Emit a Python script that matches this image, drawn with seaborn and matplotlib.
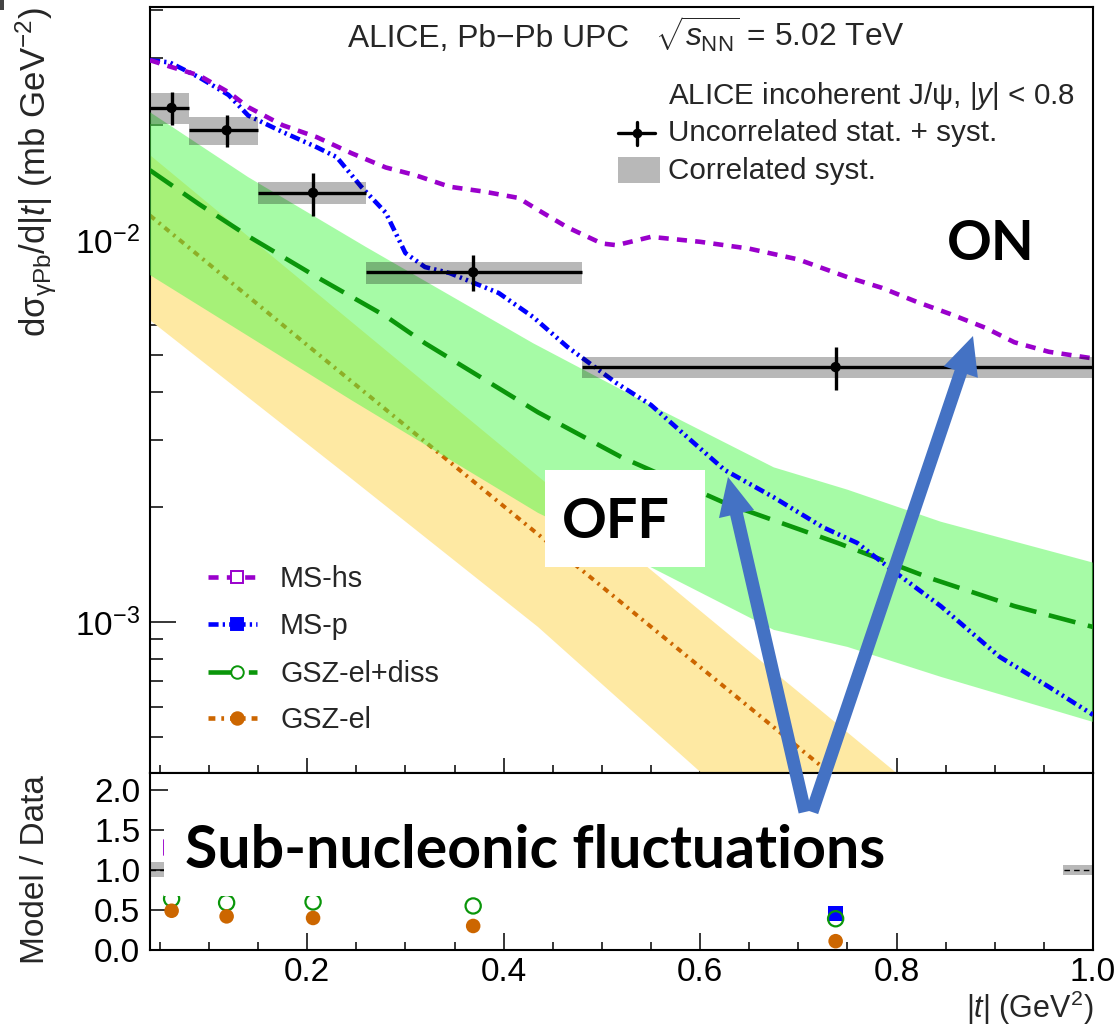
import numpy as np
import pandas as pd
import matplotlib
matplotlib.use("Agg")
import matplotlib.pyplot as plt
import matplotlib.patches as mpatches
from matplotlib.lines import Line2D
from matplotlib.ticker import MultipleLocator, FixedLocator, NullFormatter, LogLocator, FuncFormatter
from matplotlib.transforms import IdentityTransform
import seaborn as sns

# ---------------- ALICE incoherent J/psi data ----------------
t_lo = [0.04, 0.08, 0.15, 0.26, 0.48]
t_hi = [0.08, 0.15, 0.26, 0.48, 1.00]
t_mean = [0.062, 0.118, 0.206, 0.369, 0.738]
xsec = [0.0222, 0.0194, 0.0133, 0.00824, 0.00465]
err_unc = [0.0022, 0.0019, 0.0017, 0.0009, 0.0006]
err_cor = [0.0021, 0.0016, 0.0009, 0.00055, 0.0003]

# ---------------- model curves ----------------
ms_hs_t = [0.04, 0.06, 0.09, 0.12, 0.14, 0.175, 0.21, 0.245, 0.28, 0.31, 0.345, 0.38,
           0.415, 0.435, 0.465, 0.50, 0.515, 0.55, 0.60, 0.65, 0.70, 0.75, 0.785, 0.82,
           0.855, 0.89, 0.92, 0.955, 1.0]
ms_hs_v = [0.0296, 0.0285, 0.0270, 0.0244, 0.0223, 0.0200, 0.0186, 0.0169, 0.0155, 0.0148,
           0.0138, 0.0134, 0.0129, 0.0120, 0.0108, 0.0098, 0.0097, 0.0102, 0.0099, 0.0095,
           0.0089, 0.0080, 0.0075, 0.0069, 0.0064, 0.0059, 0.0054, 0.0051, 0.0049]

ms_p_t = [0.04, 0.06, 0.09, 0.12, 0.14, 0.175, 0.21, 0.23, 0.255, 0.28, 0.30, 0.32, 0.345,
          0.37, 0.395, 0.43, 0.465, 0.515, 0.55, 0.59, 0.625, 0.675, 0.725, 0.76, 0.795,
          0.845, 0.905, 0.955, 1.0]
ms_p_v = [0.0296, 0.0292, 0.0267, 0.0240, 0.0212, 0.0192, 0.0175, 0.0165, 0.0138, 0.0118,
          0.00925, 0.00850, 0.00820, 0.00772, 0.00727, 0.00629, 0.00525, 0.00422, 0.00370,
          0.00300, 0.00250, 0.00212, 0.00177, 0.00161, 0.00137, 0.00110, 0.00081, 0.000676,
          0.000571]

gsz_diss_t = [0.04, 0.09, 0.14, 0.21, 0.28, 0.32, 0.435, 0.52, 0.625, 0.74, 0.835, 0.92, 1.0]
gsz_diss_v = [0.01524, 0.01242, 0.01024, 0.00800, 0.00632, 0.00537, 0.00354, 0.00270,
              0.00205, 0.00161, 0.00130, 0.00110, 0.00097]
gsz_diss_up_t = [0.04, 0.14, 0.26, 0.43, 0.54, 0.675, 0.75, 0.845, 1.0]
gsz_diss_up_v = [0.02163, 0.01462, 0.00959, 0.00537, 0.00381, 0.00254, 0.00222, 0.00183, 0.00143]
gsz_diss_lo_t = [0.04, 0.245, 0.435, 0.55, 0.675, 0.75, 0.845, 1.0]
gsz_diss_lo_v = [0.00810, 0.00381, 0.00193, 0.00139, 0.000953, 0.000860, 0.000718, 0.000547]

gsz_el_t = [0.04, 0.2, 0.4, 0.6, 0.8]
gsz_el_v = [0.0116, 0.00531, 0.00201, 0.000762, 0.000289]
gsz_el_up_t = [0.04, 0.2, 0.4, 0.6, 0.8, 0.9]
gsz_el_up_v = [0.0167, 0.00762, 0.00286, 0.00107, 0.000402, 0.000246]
gsz_el_lo_t = [0.04, 0.24, 0.435, 0.6, 0.7, 0.9]
gsz_el_lo_v = [0.00617, 0.00243, 0.00097, 0.000405, 0.000238, 0.0000900]

# ---------------- model / data ratios ----------------
ratio_ms_hs = [1.28, 1.27, 1.41, 1.64, 1.76]
ratio_ms_p = [1.31, 1.24, 1.28, 0.94, 0.46]
ratio_gsz_diss = [0.64, 0.59, 0.60, 0.55, 0.39]
ratio_gsz_el = [0.49, 0.42, 0.40, 0.30, 0.11]

# ---------------- style ----------------
PURPLE = "#9a00cc"
BLUE = "#0000ff"
GREEN = "#0a960a"
ORANGE = "#cc6600"
BAND_GREEN = (79 / 255, 249 / 255, 79 / 255)
BAND_YELLOW = "#fee9a3"
ARROW = "#4472c4"

LS_HS = (0, (2.2, 1.8))
LS_P = (0, (2.2, 0.9, 0.5, 0.9, 0.5, 0.9))
LS_DISS = (0, (6.0, 2.8))
LS_EL = (0, (1.5, 1.3, 0.6, 1.3))

sns.set_style("ticks")
plt.rcParams["font.family"] = ["Liberation Sans", "DejaVu Sans"]
plt.rcParams["mathtext.fontset"] = "custom"
plt.rcParams["mathtext.rm"] = "Liberation Sans"
plt.rcParams["mathtext.it"] = "Liberation Sans:italic"
plt.rcParams["mathtext.bf"] = "Liberation Sans:bold"
plt.rcParams["mathtext.sf"] = "Liberation Sans"

W, H = 1120, 1030
fig = plt.figure(figsize=(W / 100, H / 100), dpi=100)


def fx(px):
    return px / W


def fy(py):
    return 1 - py / H


ax = fig.add_axes([fx(150), fy(773), (1093 - 150) / W, (773 - 7) / H])
axr = fig.add_axes([fx(150), fy(950), (1093 - 150) / W, (950 - 773) / H], sharex=ax)

# ---------------- main panel ----------------
ax.set_yscale("log")
ax.set_xlim(0.04, 1.0)
ax.set_ylim(4.02e-4, 4.08e-2)

# GSZ-el band (underneath)
ax.fill(np.r_[gsz_el_up_t, gsz_el_lo_t[::-1]], np.r_[gsz_el_up_v, gsz_el_lo_v[::-1]],
        color=BAND_YELLOW, lw=0, zorder=1)
sns.lineplot(x=gsz_el_t, y=gsz_el_v, ax=ax, color=ORANGE, lw=2.9,
             linestyle=LS_EL, zorder=2, legend=False)
# GSZ-el+diss band, semi-transparent
ax.fill(np.r_[gsz_diss_up_t, gsz_diss_lo_t[::-1]], np.r_[gsz_diss_up_v, gsz_diss_lo_v[::-1]],
        color=BAND_GREEN, alpha=0.5, lw=0, zorder=3)
sns.lineplot(x=gsz_diss_t, y=gsz_diss_v, ax=ax, color=GREEN, lw=3.3,
             linestyle=LS_DISS, zorder=4, legend=False)
sns.lineplot(x=ms_p_t, y=ms_p_v, ax=ax, color=BLUE, lw=3.3,
             linestyle=LS_P, zorder=4, legend=False)
sns.lineplot(x=ms_hs_t, y=ms_hs_v, ax=ax, color=PURPLE, lw=3.3,
             linestyle=LS_HS, zorder=4, legend=False)

# correlated systematics boxes
widths = np.subtract(t_hi, t_lo)
ax.bar(t_lo, 2 * np.array(err_cor), width=widths, bottom=np.subtract(xsec, err_cor),
       align="edge", color="black", alpha=0.28, lw=0, zorder=5)
ax.errorbar(t_mean, xsec, yerr=err_unc,
            xerr=[np.subtract(t_mean, t_lo), np.subtract(t_hi, t_mean)],
            fmt="none", ecolor="black", elinewidth=2.4, capsize=0, zorder=6)
sns.scatterplot(x=t_mean, y=xsec, ax=ax, color="black", s=55, edgecolor="none",
                zorder=7, legend=False)

# ---------------- ratio panel ----------------
axr.set_ylim(0, 2.21)
rel = np.array(err_cor) / np.array(xsec)
axr.bar(t_lo, 2 * rel, width=widths, bottom=1 - rel, align="edge", color="black",
        alpha=0.28, lw=0, zorder=1)
axr.axhline(1.0, color="black", lw=1.0, ls=(0, (4, 3)), zorder=2)
sns.scatterplot(x=t_mean, y=ratio_ms_hs, ax=axr, marker="s", s=120, color=PURPLE,
                facecolors="none", edgecolors=PURPLE, linewidths=1.3, zorder=3, legend=False)
sns.scatterplot(x=t_mean, y=ratio_ms_p, ax=axr, marker="s", s=120, color=BLUE,
                edgecolor="none", zorder=3, legend=False)
sns.scatterplot(x=t_mean, y=ratio_gsz_diss, ax=axr, marker="o", s=120, color=GREEN,
                facecolors="none", edgecolors=GREEN, linewidths=1.6, zorder=4, legend=False)
sns.scatterplot(x=t_mean, y=ratio_gsz_el, ax=axr, marker="o", s=110, color=ORANGE,
                edgecolor="none", zorder=4, legend=False)

# ---------------- axes cosmetics ----------------
for a in (ax, axr):
    for sp in a.spines.values():
        sp.set_visible(True)
        sp.set_linewidth(1.5)
        sp.set_color("black")
    a.set_xlabel("")
    a.set_ylabel("")
    a.tick_params(which="both", direction="in", top=False, right=False,
                  width=1.1, colors="black", labelsize=24)

ax.xaxis.set_major_locator(FixedLocator([0.2, 0.4, 0.6, 0.8, 1.0]))
ax.xaxis.set_minor_locator(MultipleLocator(0.05))
ax.tick_params(axis="x", which="major", length=11, labelbottom=False)
ax.tick_params(axis="x", which="minor", length=5.5)
ax.yaxis.set_major_locator(LogLocator(base=10, numticks=10))
ax.yaxis.set_minor_locator(LogLocator(base=10, subs=np.arange(2, 10), numticks=20))
ax.yaxis.set_minor_formatter(NullFormatter())
ax.yaxis.set_major_formatter(FuncFormatter(lambda v, p: r"$10^{%d}$" % round(np.log10(v))))
ax.tick_params(axis="y", which="major", length=19, pad=7)
ax.tick_params(axis="y", which="minor", length=9.5)

axr.set_yticks([0, 0.5, 1.0, 1.5, 2.0])
axr.yaxis.set_major_formatter(FuncFormatter(lambda v, p: "%.1f" % v))
axr.tick_params(axis="y", which="major", length=13, pad=7)
axr.tick_params(axis="x", which="major", length=12, pad=5, labelbottom=True)
axr.tick_params(axis="x", which="minor", length=6)
axr.xaxis.set_major_formatter(FuncFormatter(lambda v, p: "%.1f" % v))

# ---------------- axis titles ----------------
fig.text(fx(36), fy(7), r"dσ$_{\mathrm{\gamma Pb}}$/d|$t$| (mb GeV$^{-2}$)",
         rotation=90, ha="center", va="top", fontsize=25)
fig.text(fx(36), fy(870), "Model / Data", rotation=90, ha="center", va="center", fontsize=24)
fig.text(fx(1093), fy(1018), r"|$t$| (GeV$^{2}$)", ha="right", va="baseline", fontsize=22)

# ---------------- header text ----------------
fig.text(fx(348), fy(47), "ALICE, Pb\u2212Pb UPC", fontsize=22.9, va="baseline")
fig.text(fx(655), fy(47), r"$\sqrt{s_{\mathrm{NN}}}$ = 5.02 TeV", fontsize=22.9, va="baseline")

# ---------------- data legend ----------------
ID = IdentityTransform()
fig.text(fx(668), fy(104), r"ALICE incoherent J/ψ, |$y$| < 0.8", fontsize=21.3, va="baseline")
fig.text(fx(668), fy(141), "Uncorrelated stat. + syst.", fontsize=21.3, va="baseline")
fig.text(fx(668), fy(179), "Correlated syst.", fontsize=21.3, va="baseline")
fig.add_artist(Line2D([618, 655], [H - 133, H - 133], transform=ID, color="black", lw=2.4))
fig.add_artist(Line2D([637, 637], [H - 122, H - 145], transform=ID, color="black", lw=2.4))
fig.add_artist(Line2D([637], [H - 133], transform=ID, color="black", marker="o",
                      markersize=7, markeredgewidth=0))
fig.add_artist(mpatches.Rectangle((618, H - 183), 42, 26, transform=ID, color="black",
                                  alpha=0.28, lw=0))

# ---------------- model legend ----------------
model_rows = [
    ("MS-hs", PURPLE, LS_HS, "s", "none", 577),
    ("MS-p", BLUE, LS_P, "s", BLUE, 624),
    ("GSZ-el+diss", GREEN, LS_DISS, "o", "none", 672),
    ("GSZ-el", ORANGE, LS_EL, "o", ORANGE, 718),
]
for label, col, ls, mk, mfc, yy in model_rows:
    fig.add_artist(Line2D([208, 257], [H - yy, H - yy], transform=ID, color=col, lw=3.3,
                          linestyle=ls))
    fig.add_artist(Line2D([237], [H - yy], transform=ID, color=col, marker=mk,
                          markersize=9, markerfacecolor=mfc if mfc != "none" else "white",
                          markeredgecolor=col, markeredgewidth=1.4))
    fig.text(fx(280), fy(yy + 10), label, fontsize=20.7, va="baseline")

# ---------------- annotations ----------------
fig.add_artist(mpatches.Rectangle((545, H - 567), 160, 97, transform=ID, color="white",
                                  lw=0, zorder=2))
fig.text(fx(616), fy(538), "OFF", fontsize=40, fontfamily="Lato", fontweight="bold",
         ha="center", va="baseline", color="black", zorder=3)
fig.text(fx(991), fy(260), "ON", fontsize=40, fontfamily="Lato", fontweight="bold",
         ha="center", va="baseline", color="black", zorder=3)

fig.add_artist(mpatches.Rectangle((164, H - 896), 899, 96, transform=ID, color="white",
                                  lw=0, zorder=2))
fig.text(fx(185), fy(868), "Sub-nucleonic fluctuations", fontsize=42.5, fontfamily="Lato",
         fontweight="bold", ha="left", va="baseline", color="black", zorder=3)

for (x0, y0), (x1, y1) in [((805, 812), (728, 477)), ((812, 812), (973, 336))]:
    fig.add_artist(mpatches.FancyArrow(x0, H - y0, x1 - x0, -(y1 - y0), width=13,
                                       head_width=36, head_length=38,
                                       length_includes_head=True, transform=ID,
                                       color=ARROW, lw=0, zorder=4))

fig.add_artist(mpatches.Rectangle((0, H - 10), 4, 10, transform=ID, color="#444444", lw=0))

fig.savefig("out.png", dpi=100)
